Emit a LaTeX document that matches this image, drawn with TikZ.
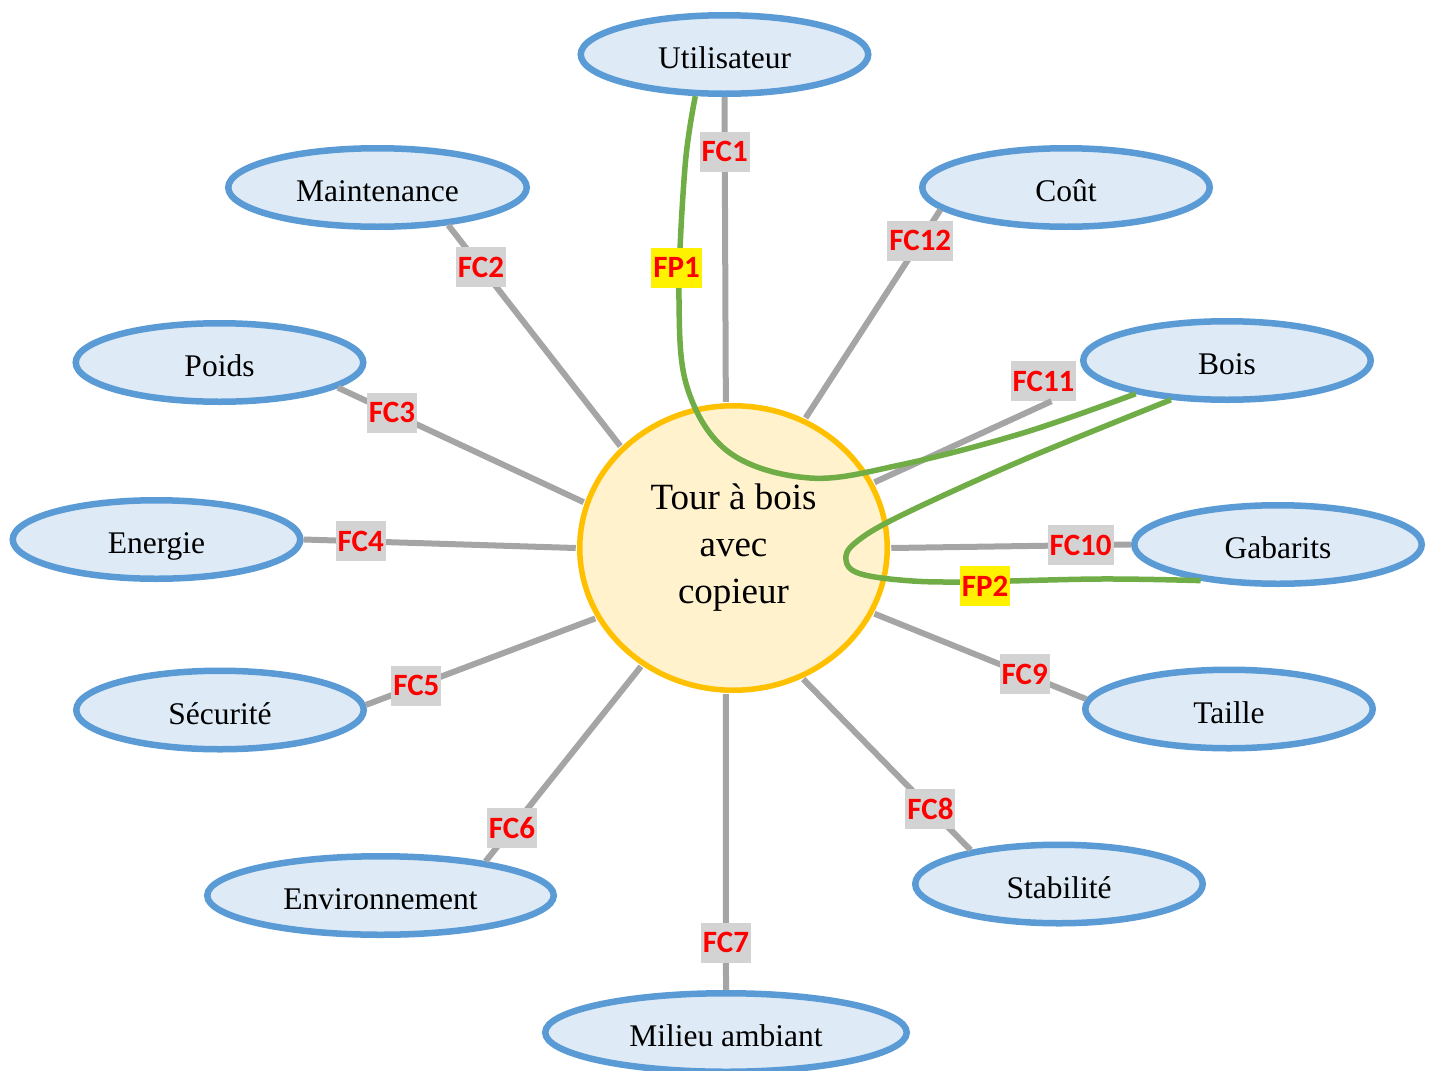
\documentclass[tikz,border=0pt]{standalone}
\usepackage{fontspec}
\usepackage{tikz}
\usetikzlibrary{shapes.geometric}
\setmainfont{Liberation Serif}
\newfontfamily\fcfont{Carlito}

\definecolor{bordbleu}{HTML}{5B9BD5}
\definecolor{fondbleu}{HTML}{DEEBF7}
\definecolor{bordor}{HTML}{FFC000}
\definecolor{fondor}{HTML}{FFF2CC}
\definecolor{lienvert}{HTML}{70AD47}
\definecolor{liengris}{HTML}{A5A5A5}
\definecolor{fondfc}{HTML}{D3D3D3}

\tikzset{
  element/.style={ellipse, draw=bordbleu, fill=fondbleu, line width=6.5pt, minimum width=287.5pt, minimum height=78.5pt, inner sep=0pt, font=\fontsize{31.5}{38}\selectfont, text height=28pt, text depth=0pt},
  centre/.style={ellipse, draw=bordor, fill=fondor, line width=5.5pt, minimum width=307.5pt, minimum height=284.5pt, outer sep=4pt, align=center, font=\fontsize{37}{47}\selectfont},
  fc/.style={fill=fondfc, text=red, font=\fcfont\bfseries\fontsize{31}{31}\selectfont, inner xsep=2pt, inner ysep=0pt, minimum height=40pt},
  fp/.style={fc, fill=yellow},
  lienfc/.style={draw=liengris, line width=6pt},
  lienfp/.style={draw=lienvert, line width=5.5pt}
}

\begin{document}
\begin{tikzpicture}[x=1pt,y=-1pt]
\useasboundingbox (0,0) rectangle (1433,1071);

\node[centre] (tour) at (733.5,548) {Tour à bois\\avec\\copieur};

\node[element] (util) at (724.5,54.5) {Utilisateur};
\node[element, minimum width=298.5pt] (maint) at (377.5,187.5) {Maintenance};
\node[element] (cout) at (1066,187.5) {Coût};
\node[element] (poids) at (219.5,362.5) {Poids};
\node[element] (bois) at (1227,360.5) {Bois};
\node[element] (energie) at (156.5,539.5) {Energie};
\node[element] (gab) at (1278,544.5) {Gabarits};
\node[element] (secu) at (220,710) {Sécurité};
\node[element] (taille) at (1229,709) {Taille};
\node[element, minimum width=346.5pt] (env) at (380.5,895.5) {Environnement};
\node[element] (stab) at (1059,884) {Stabilité};
\node[element, minimum width=361.5pt] (milieu) at (726,1032.5) {Milieu ambiant};

\draw[lienfc] (tour.93) -- (util.south) node[fc,pos=0.82] {FC1};
\draw[lienfc] (tour.138.5) -- (maint.332.6) node[fc,pos=0.81] {FC2};
\draw[lienfc] (tour.163.5) -- (poids.348.5) node[fc,pos=0.78] {FC3};
\draw[lienfc] (tour.180) -- (energie.east) node[fc,pos=0.79] {FC4};
\draw[lienfc] (tour.207) -- (secu.2) node[fc,pos=0.78] {FC5};
\draw[lienfc] (tour.232) -- (env.18) node[fc,pos=0.83] {FC6};
\draw[lienfc] (tour.267.5) -- (milieu.north) node[fc,pos=0.84] {FC7};
\draw[lienfc] (tour.298.8) -- (stab.159.7) node[fc,pos=0.76] {FC8};
\draw[lienfc] (tour.335.3) -- (taille.176) node[fc,pos=0.71] {FC9};
\draw[lienfc] (tour.0) -- (gab.west) node[fc,pos=0.79] {FC10};
\node[fc] (fc11) at (1043.5,381) {FC11};
\draw[lienfc] (tour.25) -- ([xshift=8pt]fc11.south);
\draw[lienfc] (tour.61.7) -- (cout.190.4) node[fc,pos=0.85] {FC12};

\draw[lienfp] plot[smooth, tension=0.6] coordinates {(util.235) (685,167) (679,300) (688,390) (730,453) (810,478) (900,465) (1023,433) (bois.200)};
\node[fp] (fp1) at (676.5,267.5) {FP1};

\draw[lienfp] plot[smooth, tension=0.6] coordinates {(bois.215) (1023,460) (900,516) (855,543) (846,560) (858,573) (900,580) (961,582) (1100,579) (gab.205)};
\node[fp] (fp2) at (985,586) {FP2};

\end{tikzpicture}
\end{document}
